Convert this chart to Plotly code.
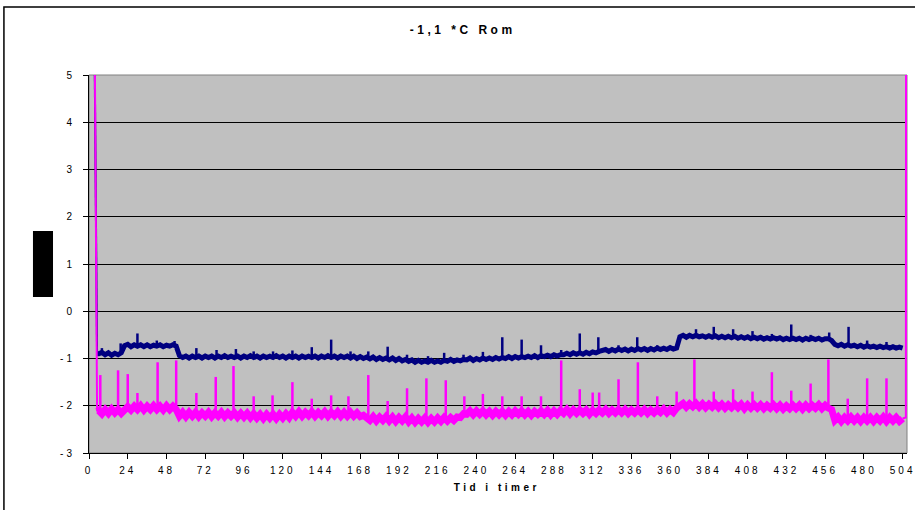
import plotly.graph_objects as go

# ---------------- data ----------------
start_hours = [0, 5]
blue_start = [20, -0.90]
pink_start = [25, -2.12]

hours = [5] + list(range(6, 505, 2))

blue_base = [-0.90,
    -0.90, -0.87, -0.92, -0.88, -0.93, -0.89,
    -0.92, -0.88, -0.73, -0.70, -0.75, -0.71,
    -0.74, -0.71, -0.75, -0.71, -0.75, -0.72,
    -0.74, -0.71, -0.75, -0.72, -0.74, -0.71,
    -0.74, -0.94, -0.98, -0.95, -0.99, -0.95,
    -0.98, -0.95, -0.99, -0.95, -0.98, -0.95,
    -0.99, -0.95, -0.98, -0.94, -0.98, -0.95,
    -0.98, -0.95, -0.99, -0.95, -0.98, -0.94,
    -0.98, -0.95, -0.99, -0.95, -0.98, -0.95,
    -0.98, -0.94, -0.98, -0.95, -0.99, -0.95,
    -0.98, -0.95, -0.99, -0.95, -0.98, -0.95,
    -0.98, -0.95, -0.99, -0.95, -0.98, -0.94,
    -0.98, -0.95, -0.99, -0.95, -0.98, -0.95,
    -0.99, -0.95, -1.00, -0.96, -1.00, -0.97,
    -1.01, -0.97, -1.02, -0.98, -1.02, -0.99,
    -1.03, -0.99, -1.04, -1.00, -1.05, -1.02,
    -1.06, -1.03, -1.08, -1.04, -1.08, -1.05,
    -1.08, -1.04, -1.08, -1.05, -1.08, -1.04,
    -1.06, -1.02, -1.06, -1.03, -1.05, -1.02,
    -1.03, -0.99, -1.04, -1.00, -1.03, -0.99,
    -1.02, -0.99, -1.02, -0.98, -1.01, -0.98,
    -1.00, -0.96, -1.00, -0.96, -0.99, -0.96,
    -0.98, -0.95, -0.98, -0.94, -0.98, -0.94,
    -0.96, -0.93, -0.96, -0.92, -0.95, -0.92,
    -0.92, -0.89, -0.92, -0.88, -0.91, -0.88,
    -0.91, -0.87, -0.90, -0.86, -0.88, -0.85,
    -0.84, -0.81, -0.85, -0.81, -0.84, -0.80,
    -0.83, -0.80, -0.84, -0.80, -0.83, -0.79,
    -0.82, -0.79, -0.83, -0.79, -0.82, -0.78,
    -0.81, -0.78, -0.81, -0.77, -0.80, -0.78,
    -0.54, -0.51, -0.55, -0.51, -0.54, -0.51,
    -0.54, -0.52, -0.55, -0.52, -0.55, -0.52,
    -0.56, -0.53, -0.56, -0.53, -0.56, -0.53,
    -0.57, -0.54, -0.57, -0.54, -0.58, -0.55,
    -0.58, -0.55, -0.59, -0.56, -0.59, -0.56,
    -0.59, -0.56, -0.60, -0.57, -0.60, -0.57,
    -0.60, -0.57, -0.61, -0.57, -0.60, -0.57,
    -0.60, -0.57, -0.61, -0.58, -0.58, -0.62,
    -0.70, -0.73, -0.70, -0.74, -0.71, -0.74,
    -0.72, -0.75, -0.72, -0.76, -0.73, -0.76,
    -0.74, -0.77, -0.74, -0.77, -0.75, -0.78,
    -0.75, -0.78, -0.76, -0.78]

pink_base = [-2.12,
    -2.10, -2.17, -2.08, -2.16, -2.07, -2.15,
    -2.08, -2.16, -2.07, -2.02, -2.09, -2.01,
    -2.08, -2.00, -2.09, -2.01, -2.08, -2.00,
    -2.08, -2.01, -2.09, -2.00, -2.08, -2.01,
    -2.08, -2.22, -2.14, -2.23, -2.14, -2.22,
    -2.14, -2.23, -2.15, -2.22, -2.14, -2.23,
    -2.15, -2.22, -2.14, -2.23, -2.15, -2.22,
    -2.15, -2.24, -2.16, -2.24, -2.16, -2.25,
    -2.17, -2.26, -2.18, -2.27, -2.18, -2.26,
    -2.18, -2.27, -2.18, -2.26, -2.17, -2.25,
    -2.14, -2.22, -2.13, -2.22, -2.14, -2.21,
    -2.13, -2.22, -2.14, -2.21, -2.13, -2.22,
    -2.14, -2.21, -2.13, -2.22, -2.14, -2.22,
    -2.14, -2.22, -2.15, -2.23, -2.20, -2.28,
    -2.31, -2.23, -2.32, -2.24, -2.31, -2.23,
    -2.32, -2.24, -2.33, -2.25, -2.32, -2.24,
    -2.34, -2.26, -2.35, -2.27, -2.34, -2.26,
    -2.35, -2.27, -2.34, -2.26, -2.33, -2.25,
    -2.32, -2.25, -2.31, -2.24, -2.25, -2.17,
    -2.18, -2.11, -2.19, -2.11, -2.18, -2.11,
    -2.19, -2.12, -2.20, -2.12, -2.19, -2.12,
    -2.20, -2.12, -2.19, -2.11, -2.18, -2.11,
    -2.19, -2.12, -2.20, -2.12, -2.18, -2.11,
    -2.18, -2.10, -2.19, -2.11, -2.18, -2.10,
    -2.16, -2.08, -2.17, -2.09, -2.16, -2.09,
    -2.16, -2.09, -2.18, -2.10, -2.16, -2.09,
    -2.15, -2.08, -2.16, -2.09, -2.15, -2.08,
    -2.15, -2.08, -2.16, -2.09, -2.15, -2.08,
    -2.15, -2.08, -2.16, -2.09, -2.15, -2.08,
    -2.14, -2.07, -2.15, -2.08, -2.14, -2.05,
    -2.02, -1.95, -2.03, -1.96, -2.02, -1.95,
    -2.03, -1.96, -2.04, -1.97, -2.03, -1.96,
    -2.04, -1.97, -2.05, -1.98, -2.04, -1.97,
    -2.04, -1.97, -2.06, -1.98, -2.05, -1.98,
    -2.05, -1.98, -2.06, -1.99, -2.05, -1.98,
    -2.06, -1.99, -2.07, -2.00, -2.06, -1.99,
    -2.06, -1.99, -2.07, -1.99, -2.06, -1.99,
    -2.05, -1.98, -2.06, -1.99, -2.05, -2.08,
    -2.31, -2.24, -2.33, -2.25, -2.32, -2.24,
    -2.32, -2.25, -2.33, -2.25, -2.32, -2.25,
    -2.33, -2.25, -2.32, -2.24, -2.33, -2.25,
    -2.32, -2.25, -2.33, -2.27]

pink_end_hours = [504, 506, 506.4]
pink_end_temps = [-2.27, -2.25, 30]

blue_spike_hours = [8, 19.6, 30, 42, 53, 66.5, 79, 91, 102, 114, 126, 138, 150,
                    162, 173, 185, 197, 210, 220, 232, 244, 256, 268, 280, 292.5,
                    304, 315.5, 328, 339.6, 352, 376, 387, 399, 411, 423, 435,
                    447, 458.5, 470.5, 482, 494]
blue_spike_peaks = [-0.78, -0.68, -0.47, -0.62, -0.63, -0.78, -0.82, -0.80, -0.85,
                    -0.85, -0.83, -0.76, -0.60, -0.85, -0.85, -0.75, -0.92, -0.95,
                    -0.88, -0.92, -0.86, -0.55, -0.60, -0.72, -0.82, -0.47, -0.55,
                    -0.72, -0.55, -0.72, -0.38, -0.33, -0.38, -0.42, -0.48, -0.28,
                    -0.50, -0.45, -0.33, -0.62, -0.65]
blue_spike_bases = [-0.90, -0.90, -0.73, -0.73, -0.73, -0.96, -0.96, -0.96, -0.96,
                    -0.96, -0.96, -0.96, -0.96, -0.97, -0.99, -1.00, -1.04, -1.06,
                    -1.05, -1.03, -1.00, -0.99, -0.97, -0.95, -0.92, -0.89, -0.86,
                    -0.82, -0.81, -0.80, -0.53, -0.53, -0.55, -0.56, -0.57, -0.58,
                    -0.59, -0.59, -0.72, -0.74, -0.76]

pink_spike_hours = [7, 18, 24, 30, 42.5, 54, 66.5, 78.5, 89.5, 102, 113.7, 126, 138,
                    150, 160.7, 173, 185, 197, 209, 221, 232.5, 244, 256, 268, 280,
                    292.5, 304, 312, 316, 328, 340, 352, 364, 375, 387, 399, 411,
                    423, 435, 447, 458, 470, 482, 494]
pink_spike_peaks = [-1.35, -1.25, -1.33, -1.73, -1.08, -1.04, -1.73, -1.39, -1.16,
                    -1.80, -1.78, -1.50, -1.85, -1.78, -1.80, -1.35, -1.90, -1.63,
                    -1.42, -1.46, -1.80, -1.75, -1.80, -1.80, -1.80, -1.04, -1.65,
                    -1.72, -1.72, -1.44, -1.08, -1.80, -1.70, -1.02, -1.70, -1.65,
                    -1.70, -1.29, -1.68, -1.53, -1.02, -1.85, -1.42, -1.42]
pink_spike_bases = [-2.12, -2.10, -2.05, -2.05, -2.05, -2.05, -2.18, -2.18, -2.18,
                    -2.20, -2.22, -2.18, -2.18, -2.18, -2.18, -2.25, -2.27, -2.28,
                    -2.30, -2.28, -2.20, -2.15, -2.15, -2.15, -2.15, -2.14, -2.12,
                    -2.12, -2.12, -2.12, -2.12, -2.12, -2.05, -2.00, -2.00, -2.00,
                    -2.00, -2.02, -2.02, -2.02, -2.02, -2.28, -2.28, -2.28]

x_ticks = list(range(0, 505, 24))
y_ticks = [-3, -2, -1, 0, 1, 2, 3, 4, 5]
y_labels = ["-3", "-2", "-1", "0", "1", "2", "3", "4", "5"]

title_text = "-1,1 *C Rom"
x_title = "Tid i timer"

BLUE = "#000080"
PINK = "#FF00FF"


def spike_xy(hs, peaks, bases):
    xs, ys = [], []
    for h, p, b in zip(hs, peaks, bases):
        xs += [h, h, None]
        ys += [b, p, None]
    return xs, ys


# ---------------- figure ----------------
fig = go.Figure()
fig.add_trace(go.Scatter(x=start_hours, y=blue_start, mode="lines",
                         line=dict(color=BLUE, width=2), showlegend=False))
fig.add_trace(go.Scatter(x=hours, y=blue_base, mode="lines",
                         line=dict(color=BLUE, width=5), showlegend=False))
bx, by = spike_xy(blue_spike_hours, blue_spike_peaks, blue_spike_bases)
fig.add_trace(go.Scatter(x=bx, y=by, mode="lines",
                         line=dict(color=BLUE, width=2.5), showlegend=False))

fig.add_trace(go.Scatter(x=start_hours, y=pink_start, mode="lines",
                         line=dict(color=PINK, width=2), showlegend=False))
fig.add_trace(go.Scatter(x=hours, y=pink_base, mode="lines",
                         line=dict(color=PINK, width=7), showlegend=False))
fig.add_trace(go.Scatter(x=pink_end_hours, y=pink_end_temps, mode="lines",
                         line=dict(color=PINK, width=2), showlegend=False))
px, py = spike_xy(pink_spike_hours, pink_spike_peaks, pink_spike_bases)
fig.add_trace(go.Scatter(x=px, y=py, mode="lines",
                         line=dict(color=PINK, width=2.5), showlegend=False))

font = "Arial, Liberation Sans, sans-serif"

fig.update_layout(
    width=915, height=510,
    margin=dict(l=89, r=8, t=75, b=57, autoexpand=False),
    paper_bgcolor="white", plot_bgcolor="#C0C0C0",
    font=dict(family=font, size=10, color="black"),
    xaxis=dict(range=[0, 506.7], tickvals=x_ticks, ticks="outside", ticklen=5,
               tickcolor="black", showline=True, linecolor="black", linewidth=1,
               showgrid=False, zeroline=False, tickfont=dict(size=10),
               ticklabelstandoff=3, automargin=False),
    yaxis=dict(range=[-3, 5], tickvals=y_ticks, ticktext=y_labels, ticks="outside",
               ticklen=5, tickcolor="black", showline=True, linecolor="black",
               linewidth=1, showgrid=True, gridcolor="black", gridwidth=1,
               zeroline=False, tickfont=dict(size=10), ticklabelstandoff=6,
               automargin=False),
    annotations=[
        dict(text="<b>" + title_text + "</b>", xref="paper", yref="paper",
             x=0.456, y=1.119, showarrow=False, font=dict(size=12),
             xanchor="center", yanchor="middle"),
        dict(text="<b>" + x_title + "</b>", xref="paper", yref="paper",
             x=0.499, y=-0.09, showarrow=False, font=dict(size=10),
             xanchor="center", yanchor="middle"),
    ],
    shapes=[
        dict(type="rect", xref="paper", yref="paper", x0=0, x1=1, y0=0, y1=1,
             line=dict(color="#808080", width=1), layer="between"),
        dict(type="rect", xref="paper", yref="paper", x0=-0.104, x1=1.02,
             y0=-0.17, y1=1.18, line=dict(color="black", width=1.5)),
        dict(type="rect", xref="paper", yref="paper", x0=-0.0685, x1=-0.044,
             y0=0.4127, y1=0.587, fillcolor="black", line=dict(width=0)),
    ],
)

spacing_js = """
document.body.style.margin='0px';
document.querySelectorAll('.annotation-text').forEach(function(e){e.style.letterSpacing='3.5px';});
document.querySelectorAll('.xtick text').forEach(function(e){e.style.letterSpacing='3px';});
document.querySelectorAll('.ytick text').forEach(function(e){e.style.letterSpacing='3px';});
"""

fig.write_html("out.html", config={"displayModeBar": False},
               post_script=spacing_js)
